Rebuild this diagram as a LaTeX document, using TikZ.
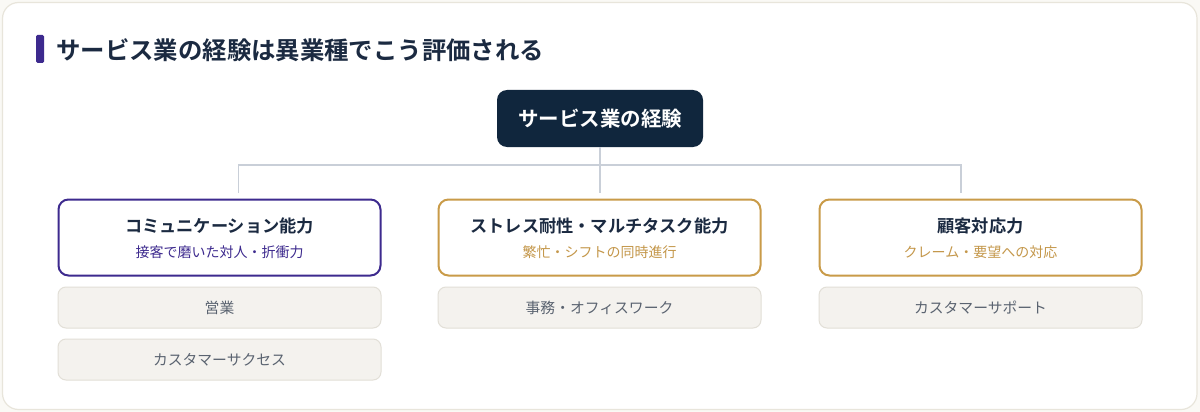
\documentclass[tikz,border=0pt]{standalone}
\usepackage{fontspec}
\setmainfont{Noto Sans CJK JP}[BoldFont={Noto Sans CJK JP Bold}]
\definecolor{bgc}{HTML}{FAF9F5}
\definecolor{cardborder}{HTML}{E8E5DB}
\definecolor{navy}{HTML}{10263D}
\definecolor{ink}{HTML}{1B2A41}
\definecolor{purp}{HTML}{3D2A8E}
\definecolor{gold}{HTML}{C99B48}
\definecolor{goldtxt}{HTML}{C4974A}
\definecolor{conn}{HTML}{C9CFD8}
\definecolor{subfill}{HTML}{F4F2EE}
\definecolor{subborder}{HTML}{E2DFD7}
\definecolor{subtxt}{HTML}{5A6370}
\begin{document}
\begin{tikzpicture}[x=1pt,y=-1pt,
  rootbox/.style={draw=none,fill=navy,rounded corners=10pt,minimum width=206pt,minimum height=57pt,inner sep=0pt,
    text=white,font=\fontsize{20.5}{24}\selectfont\bfseries},
  skillbox/.style={draw=#1,line width=2pt,fill=white,rounded corners=10pt,minimum width=322pt,minimum height=76pt,inner sep=0pt},
  subbox/.style={draw=subborder,line width=1pt,fill=subfill,rounded corners=8pt,minimum width=323pt,minimum height=41pt,inner sep=0pt,
    text=subtxt,font=\fontsize{14.8}{17}\selectfont},
  skilltitle/.style={text=ink,font=\fontsize{17.2}{20}\selectfont\bfseries,inner sep=0pt},
  skillsub/.style={text=#1,font=\fontsize{14}{16}\selectfont,inner sep=0pt},
  connector/.style={draw=conn,line width=1.6pt}
]
\useasboundingbox (0,0) rectangle (1200,412);
\fill[bgc] (0,0) rectangle (1200,412);
\draw[cardborder,line width=1.2pt,fill=white,rounded corners=16pt] (2.5,2.5) rectangle (1197,409.5);
% title
\fill[purp,rounded corners=1.5pt] (36,35) rectangle (44,63);
\node[anchor=west,inner sep=0pt,text=ink,font=\fontsize{24.4}{28}\selectfont\bfseries] (title) at (56,50) {サービス業の経験は異業種でこう評価される};
% root
\node[rootbox] (root) at (600,118.5) {サービス業の経験};
% skill boxes
\node[skillbox=purp] (b1) at (219.5,237.5) {};
\node[skillbox=gold] (b2) at (599.5,237.5) {};
\node[skillbox=gold] (b3) at (980.5,237.5) {};
\node[skilltitle] (t1) at (219.5,226) {コミュニケーション能力};
\node[skillsub=purp] (s1) at (219.5,252.5) {接客で磨いた対人・折衝力};
\node[skilltitle] (t2) at (599.5,226) {ストレス耐性・マルチタスク能力};
\node[skillsub=goldtxt] (s2) at (599.5,252.5) {繁忙・シフトの同時進行};
\node[skilltitle] (t3) at (980.5,226) {顧客対応力};
\node[skillsub=goldtxt] (s3) at (980.5,252.5) {クレーム・要望への対応};
% connectors
\coordinate (j) at (600,165);
\coordinate (d1) at (238.5,193);
\coordinate (d2) at (600,193);
\coordinate (d3) at (961,193);
\draw[connector] (root.south) -- (d2);
\draw[connector] (d1) |- (j) -| (d3);
% sub boxes
\node[subbox] (u11) at (219.5,307.5) {営業};
\node[subbox] (u12) at (219.5,359.5) {カスタマーサクセス};
\node[subbox] (u21) at (599.5,307.5) {事務・オフィスワーク};
\node[subbox] (u31) at (980.5,307.5) {カスタマーサポート};
\end{tikzpicture}
\end{document}
